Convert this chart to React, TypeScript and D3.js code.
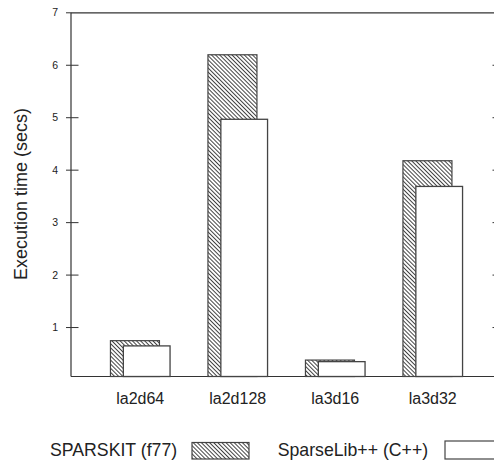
import * as d3 from "d3";

// matrix names and timings (secs)
const matrices = ["la2d64", "la2d128", "la3d16", "la3d32"];
const sparskit = [0.75, 6.2, 0.38, 4.18];
const sparselib = [0.65, 4.97, 0.35, 3.69];
const yTicks = [1, 2, 3, 4, 5, 6, 7];
const legendNames = ["SPARSKIT (f77)", "SparseLib++ (C++)"];

const W = 494, H = 460;
const left = 71, right = 497, top = 12.8, base = 376.5;

const App = () => {
  const y = d3.scaleLinear().domain([0, 7]).range([380, top]);
  const x = d3.scaleBand().domain(matrices).range([91.5, 481.5]);
  const grp = 59.6; // width of one overlapped pair
  const hatchW = 49, whiteW = 46.7;
  const axisCol = "#333";
  const font = "'Liberation Sans', Arial, sans-serif";

  return (
    <svg width={W} height={H} style={{position: "absolute", left: 0, top: 0}} fontFamily={font}>
      <defs>
        <pattern id="hatch" patternUnits="userSpaceOnUse" width={2.9} height={2.9} patternTransform="rotate(-45)">
          <rect width={2.9} height={2.9} fill="#fff" />
          <line x1={0.5} y1={0} x2={0.5} y2={2.9} stroke="#222" strokeWidth={0.85} />
        </pattern>
      </defs>

      {/* frame */}
      <line x1={left} x2={right} y1={top} y2={top} stroke={axisCol} strokeWidth={1.2} />
      <line x1={left} x2={left} y1={top} y2={base} stroke={axisCol} strokeWidth={1.2} />
      <line x1={left} x2={right} y1={base} y2={base} stroke={axisCol} strokeWidth={1.2} />

      {yTicks.map((t) => (
        <g key={t}>
          <line x1={66} x2={t === 7 ? left : 78.5} y1={y(t)} y2={y(t)} stroke={axisCol} strokeWidth={1} />
          {t < 7 && <line x1={492.5} x2={right} y1={y(t)} y2={y(t)} stroke={axisCol} strokeWidth={1} />}
          <text x={58} y={y(t)} dy="0.35em" textAnchor="end" fontSize={10.5} fill="#222">{t}</text>
        </g>
      ))}

      <text transform={`translate(27,194) rotate(-90)`} textAnchor="middle" fontSize={18} fill="#222">
        Execution time (secs)
      </text>

      {matrices.map((m, i) => {
        const c = (x(m) as number) + x.bandwidth() / 2;
        const x0 = c - grp / 2;
        return (
          <g key={m}>
            <rect x={x0} y={y(sparskit[i])} width={hatchW} height={base - y(sparskit[i])}
              fill="url(#hatch)" stroke="#444" strokeWidth={1.2} />
            <rect x={x0 + grp - whiteW} y={y(sparselib[i])} width={whiteW} height={base - y(sparselib[i])}
              fill="#fff" stroke="#444" strokeWidth={1.3} />
            <text x={c} y={404} textAnchor="middle" fontSize={16} fill="#222">{m}</text>
          </g>
        );
      })}

      {/* legend */}
      <text x={50} y={456} fontSize={17.7} fill="#222">{legendNames[0]}</text>
      <rect x={192} y={442.5} width={57} height={16.5} fill="url(#hatch)" stroke="#444" strokeWidth={1.2} />
      <text x={277.7} y={456} fontSize={17.7} fill="#222">{legendNames[1]}</text>
      <rect x={445} y={441} width={60} height={18} fill="#fff" stroke="#444" strokeWidth={1.2} />
    </svg>
  );
};

export default App;
